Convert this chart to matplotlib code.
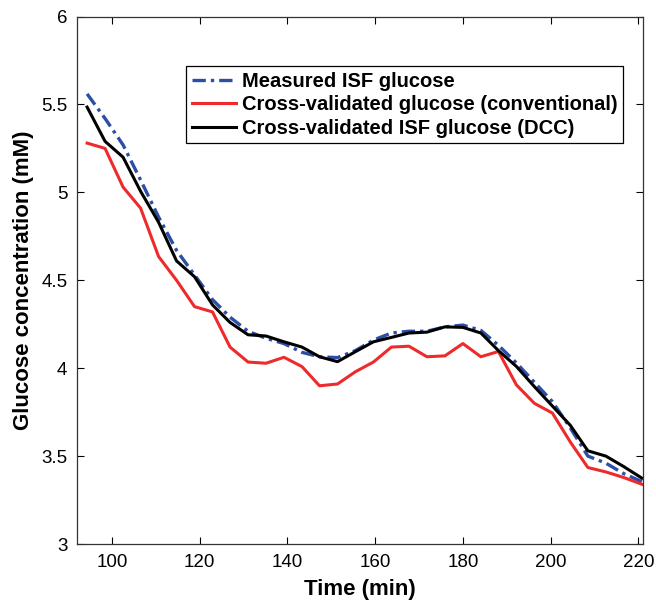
import matplotlib
matplotlib.use("Agg")
import matplotlib.pyplot as plt

# Sample times (min)
time_min = [94.3, 98.4, 102.5, 106.5, 110.6, 114.7, 118.8, 122.9, 126.9, 131.0,
            135.1, 139.2, 143.3, 147.3, 151.4, 155.5, 159.6, 163.7, 167.7, 171.8,
            175.9, 180.0, 184.1, 188.1, 192.2, 196.3, 200.4, 204.5, 208.5, 212.6,
            216.7, 220.8]

measured_isf = [5.56, 5.42, 5.27, 5.07, 4.86, 4.67, 4.53, 4.39, 4.29, 4.21,
                4.17, 4.14, 4.09, 4.065, 4.06, 4.10, 4.16, 4.20, 4.21, 4.21,
                4.235, 4.245, 4.215, 4.13, 4.03, 3.92, 3.81, 3.66, 3.50, 3.46,
                3.40, 3.355]

cv_conventional = [5.28, 5.25, 5.03, 4.91, 4.635, 4.50, 4.35, 4.32, 4.12, 4.035,
                   4.028, 4.062, 4.009, 3.90, 3.91, 3.98, 4.035, 4.12, 4.125, 4.065,
                   4.07, 4.14, 4.065, 4.095, 3.905, 3.80, 3.745, 3.58, 3.435, 3.41,
                   3.378, 3.34]

cv_dcc = [5.485, 5.29, 5.20, 5.006, 4.83, 4.61, 4.52, 4.36, 4.26, 4.19,
          4.183, 4.15, 4.12, 4.065, 4.037, 4.094, 4.15, 4.175, 4.20, 4.205,
          4.235, 4.232, 4.20, 4.10, 4.01, 3.895, 3.785, 3.675, 3.53, 3.50,
          3.44, 3.375]

x_ticks = [100, 120, 140, 160, 180, 200, 220]
y_ticks = [3, 3.5, 4, 4.5, 5, 5.5, 6]
y_tick_labels = ["3", "3.5", "4", "4.5", "5", "5.5", "6"]

plt.rcParams["font.family"] = ["Liberation Sans", "DejaVu Sans"]

fig = plt.figure(figsize=(6.56, 6.05), dpi=100)
ax = fig.add_axes([0.1174, 0.1008, 0.8623, 0.8719])

ax.plot(time_min, measured_isf, color="#2b4ea6", linestyle=(0, (4, 1.5, 1, 1.5)),
        linewidth=2.4, label="Measured ISF glucose")
ax.plot(time_min, cv_conventional, color="#ee2a2a", linewidth=2.2,
        label="Cross-validated glucose (conventional)")
ax.plot(time_min, cv_dcc, color="black", linewidth=2.2,
        label="Cross-validated ISF glucose (DCC)")

ax.set_xlim(92, 221)
ax.set_ylim(3, 6)
ax.set_xticks(x_ticks)
ax.set_yticks(y_ticks)
ax.set_yticklabels(y_tick_labels)
ax.tick_params(direction="in", top=True, right=True, length=5, width=0.8,
               labelsize=13.5, pad=7, colors="black")
for side in ax.spines.values():
    side.set_linewidth(0.9)
    side.set_color("#333333")

ax.set_xlabel("Time (min)", fontsize=16, fontweight="bold", labelpad=6)
ax.set_ylabel("Glucose concentration (mM)", fontsize=16, fontweight="bold", labelpad=5)

# legend box top-left sits at roughly (186, 66) px in the reference
leg = ax.legend(loc="upper left", bbox_to_anchor=(0.1927, 0.906), borderaxespad=0,
                fancybox=False, framealpha=1, edgecolor="black",
                prop={"size": 14.5, "weight": "bold"}, handlelength=2.2,
                handletextpad=0.3, labelspacing=0.22, borderpad=0.28)
leg.get_frame().set_linewidth(0.9)

fig.savefig("out.png", dpi=100)
